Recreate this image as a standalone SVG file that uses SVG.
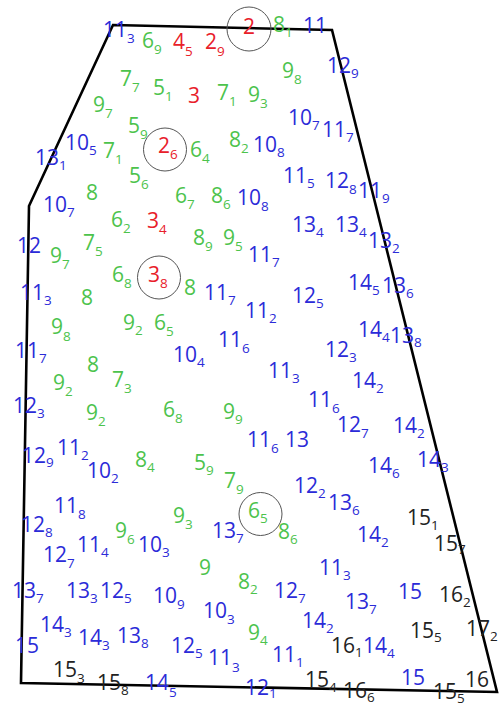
<svg xmlns="http://www.w3.org/2000/svg" width="501" height="707" viewBox="0 0 501 707">
<style>
text{font-family:"Open Sans","Noto Sans","DejaVu Sans",sans-serif;font-size:21px}
.s{font-size:13.5px}
.b{fill:#2b2bd8}.g{fill:#4cc34c}.r{fill:#e8202a}.k{fill:#222}
.ring{fill:none;stroke:#555;stroke-width:1}
</style>
<rect width="501" height="707" fill="#fff"/>
<g id="outline"><polygon points="113,25 332,30 497,692 21,683 29,206" fill="none" stroke="#000" stroke-width="2.6" stroke-linejoin="miter"/></g>
<g id="rings">
<circle class="ring" cx="249" cy="29" r="22"/>
<circle class="ring" cx="165" cy="149.5" r="21.5"/>
<circle class="ring" cx="159" cy="277.5" r="21.5"/>
<circle class="ring" cx="260.5" cy="514" r="21.5"/>
</g>
<g id="red">
<text class="r" x="243" y="34">2</text>
<text class="r" x="173" y="49">4<tspan class="s" dy="7">5</tspan></text>
<text class="r" x="205" y="49">2<tspan class="s" dy="7">9</tspan></text>
<text class="r" x="188" y="103">3</text>
<text class="r" x="158" y="153">2<tspan class="s" dy="6">6</tspan></text>
<text class="r" x="147" y="228">3<tspan class="s" dy="6">4</tspan></text>
<text class="r" x="148" y="282">3<tspan class="s" dy="6">8</tspan></text>
</g>
<g id="green">
<text class="g" x="142" y="48">6<tspan class="s" dy="6">9</tspan></text>
<text class="g" x="273" y="32">8<tspan class="s" dy="5">1</tspan></text>
<text class="g" x="120" y="86">7<tspan class="s" dy="6">7</tspan></text>
<text class="g" x="153" y="95">5<tspan class="s" dy="6">1</tspan></text>
<text class="g" x="217" y="100">7<tspan class="s" dy="6">1</tspan></text>
<text class="g" x="248" y="102">9<tspan class="s" dy="6">3</tspan></text>
<text class="g" x="282" y="78">9<tspan class="s" dy="6">8</tspan></text>
<text class="g" x="93" y="112">9<tspan class="s" dy="6">7</tspan></text>
<text class="g" x="128" y="133">5<tspan class="s" dy="6">9</tspan></text>
<text class="g" x="190" y="157">6<tspan class="s" dy="6">4</tspan></text>
<text class="g" x="229" y="147">8<tspan class="s" dy="6">2</tspan></text>
<text class="g" x="103" y="158">7<tspan class="s" dy="6">1</tspan></text>
<text class="g" x="129" y="183">5<tspan class="s" dy="6">6</tspan></text>
<text class="g" x="86" y="200">8</text>
<text class="g" x="175" y="203">6<tspan class="s" dy="6">7</tspan></text>
<text class="g" x="211" y="203">8<tspan class="s" dy="6">6</tspan></text>
<text class="g" x="111" y="227">6<tspan class="s" dy="6">2</tspan></text>
<text class="g" x="50" y="263">9<tspan class="s" dy="6">7</tspan></text>
<text class="g" x="83" y="250">7<tspan class="s" dy="6">5</tspan></text>
<text class="g" x="193" y="245">8<tspan class="s" dy="6">9</tspan></text>
<text class="g" x="223" y="245">9<tspan class="s" dy="6">5</tspan></text>
<text class="g" x="112" y="282">6<tspan class="s" dy="6">8</tspan></text>
<text class="g" x="184" y="295">8</text>
<text class="g" x="81" y="305">8</text>
<text class="g" x="51" y="334">9<tspan class="s" dy="7">8</tspan></text>
<text class="g" x="123" y="330">9<tspan class="s" dy="5">2</tspan></text>
<text class="g" x="154" y="330">6<tspan class="s" dy="6">5</tspan></text>
<text class="g" x="87" y="372">8</text>
<text class="g" x="53" y="390">9<tspan class="s" dy="6">2</tspan></text>
<text class="g" x="112" y="387">7<tspan class="s" dy="6">3</tspan></text>
<text class="g" x="86" y="420">9<tspan class="s" dy="6">2</tspan></text>
<text class="g" x="163" y="417">6<tspan class="s" dy="6">8</tspan></text>
<text class="g" x="223" y="419">9<tspan class="s" dy="5">9</tspan></text>
<text class="g" x="135" y="467">8<tspan class="s" dy="5">4</tspan></text>
<text class="g" x="194" y="470">5<tspan class="s" dy="5">9</tspan></text>
<text class="g" x="224" y="488">7<tspan class="s" dy="6">9</tspan></text>
<text class="g" x="173" y="523">9<tspan class="s" dy="6">3</tspan></text>
<text class="g" x="115" y="538">9<tspan class="s" dy="6">6</tspan></text>
<text class="g" x="248" y="518">6<tspan class="s" dy="5">5</tspan></text>
<text class="g" x="278" y="539">8<tspan class="s" dy="5">6</tspan></text>
<text class="g" x="199" y="575">9</text>
<text class="g" x="238" y="589">8<tspan class="s" dy="5">2</tspan></text>
<text class="g" x="248" y="640">9<tspan class="s" dy="5">4</tspan></text>
</g>
<g id="blue">
<text class="b" x="103" y="37">11<tspan class="s" dy="6">3</tspan></text>
<text class="b" x="303" y="33">11</text>
<text class="b" x="327" y="73">12<tspan class="s" dy="5">9</tspan></text>
<text class="b" x="288" y="125">10<tspan class="s" dy="5">7</tspan></text>
<text class="b" x="322" y="137">11<tspan class="s" dy="5">7</tspan></text>
<text class="b" x="253" y="152">10<tspan class="s" dy="5">8</tspan></text>
<text class="b" x="65" y="150">10<tspan class="s" dy="5">5</tspan></text>
<text class="b" x="35" y="165">13<tspan class="s" dy="5">1</tspan></text>
<text class="b" x="43" y="212">10<tspan class="s" dy="5">7</tspan></text>
<text class="b" x="237" y="205">10<tspan class="s" dy="6">8</tspan></text>
<text class="b" x="283" y="183">11<tspan class="s" dy="5">5</tspan></text>
<text class="b" x="325" y="188">12<tspan class="s" dy="6">8</tspan></text>
<text class="b" x="358" y="198">11<tspan class="s" dy="5">9</tspan></text>
<text class="b" x="292" y="232">13<tspan class="s" dy="5">4</tspan></text>
<text class="b" x="335" y="232">13<tspan class="s" dy="5">4</tspan></text>
<text class="b" x="368" y="248">13<tspan class="s" dy="5">2</tspan></text>
<text class="b" x="17" y="253">12</text>
<text class="b" x="248" y="262">11<tspan class="s" dy="5">7</tspan></text>
<text class="b" x="204" y="300">11<tspan class="s" dy="5">7</tspan></text>
<text class="b" x="245" y="318">11<tspan class="s" dy="5">2</tspan></text>
<text class="b" x="20" y="300">11<tspan class="s" dy="5">3</tspan></text>
<text class="b" x="218" y="347">11<tspan class="s" dy="6">6</tspan></text>
<text class="b" x="173" y="362">10<tspan class="s" dy="5">4</tspan></text>
<text class="b" x="292" y="303">12<tspan class="s" dy="5">5</tspan></text>
<text class="b" x="348" y="290">14<tspan class="s" dy="5">5</tspan></text>
<text class="b" x="382" y="293">13<tspan class="s" dy="5">6</tspan></text>
<text class="b" x="358" y="337">14<tspan class="s" dy="5">4</tspan></text>
<text class="b" x="390" y="343">13<tspan class="s" dy="4">8</tspan></text>
<text class="b" x="325" y="357">12<tspan class="s" dy="5">3</tspan></text>
<text class="b" x="15" y="358">11<tspan class="s" dy="5">7</tspan></text>
<text class="b" x="13" y="413">12<tspan class="s" dy="5">3</tspan></text>
<text class="b" x="22" y="463">12<tspan class="s" dy="4">9</tspan></text>
<text class="b" x="57" y="455">11<tspan class="s" dy="5">2</tspan></text>
<text class="b" x="87" y="478">10<tspan class="s" dy="5">2</tspan></text>
<text class="b" x="247" y="447">11<tspan class="s" dy="6">6</tspan></text>
<text class="b" x="285" y="447">13</text>
<text class="b" x="268" y="378">11<tspan class="s" dy="5">3</tspan></text>
<text class="b" x="352" y="388">14<tspan class="s" dy="5">2</tspan></text>
<text class="b" x="308" y="407">11<tspan class="s" dy="6">6</tspan></text>
<text class="b" x="337" y="432">12<tspan class="s" dy="6">7</tspan></text>
<text class="b" x="393" y="433">14<tspan class="s" dy="5">2</tspan></text>
<text class="b" x="368" y="473">14<tspan class="s" dy="5">6</tspan></text>
<text class="b" x="417" y="467">14<tspan class="s" dy="5">3</tspan></text>
<text class="b" x="54" y="513">11<tspan class="s" dy="6">8</tspan></text>
<text class="b" x="21" y="532">12<tspan class="s" dy="5">8</tspan></text>
<text class="b" x="212" y="538">13<tspan class="s" dy="5">7</tspan></text>
<text class="b" x="138" y="552">10<tspan class="s" dy="5">3</tspan></text>
<text class="b" x="77" y="552">11<tspan class="s" dy="5">4</tspan></text>
<text class="b" x="43" y="562">12<tspan class="s" dy="6">7</tspan></text>
<text class="b" x="294" y="493">12<tspan class="s" dy="5">2</tspan></text>
<text class="b" x="328" y="510">13<tspan class="s" dy="5">6</tspan></text>
<text class="b" x="357" y="542">14<tspan class="s" dy="5">2</tspan></text>
<text class="b" x="319" y="575">11<tspan class="s" dy="5">3</tspan></text>
<text class="b" x="12" y="598">13<tspan class="s" dy="5">7</tspan></text>
<text class="b" x="66" y="598">13<tspan class="s" dy="5">3</tspan></text>
<text class="b" x="100" y="598">12<tspan class="s" dy="5">5</tspan></text>
<text class="b" x="153" y="603">10<tspan class="s" dy="6">9</tspan></text>
<text class="b" x="203" y="618">10<tspan class="s" dy="6">3</tspan></text>
<text class="b" x="40" y="632">14<tspan class="s" dy="5">3</tspan></text>
<text class="b" x="15" y="653">15</text>
<text class="b" x="78" y="645">14<tspan class="s" dy="5">3</tspan></text>
<text class="b" x="117" y="643">13<tspan class="s" dy="5">8</tspan></text>
<text class="b" x="171" y="653">12<tspan class="s" dy="5">5</tspan></text>
<text class="b" x="208" y="665">11<tspan class="s" dy="7">3</tspan></text>
<text class="b" x="145" y="690">14<tspan class="s" dy="7">5</tspan></text>
<text class="b" x="274" y="598">12<tspan class="s" dy="5">7</tspan></text>
<text class="b" x="345" y="609">13<tspan class="s" dy="5">7</tspan></text>
<text class="b" x="398" y="599">15</text>
<text class="b" x="302" y="628">14<tspan class="s" dy="5">2</tspan></text>
<text class="b" x="272" y="662">11<tspan class="s" dy="5">1</tspan></text>
<text class="b" x="363" y="653">14<tspan class="s" dy="5">4</tspan></text>
<text class="b" x="401" y="685">15</text>
<text class="b" x="245" y="695">12<tspan class="s" dy="3">1</tspan></text>
</g>
<g id="black">
<text class="k" x="407" y="525">15<tspan class="s" dy="5">1</tspan></text>
<text class="k" x="434" y="551">15<tspan class="s" dy="3">7</tspan></text>
<text class="k" x="439" y="602">16<tspan class="s" dy="5">2</tspan></text>
<text class="k" x="410" y="638">15<tspan class="s" dy="4">5</tspan></text>
<text class="k" x="466" y="636">17<tspan class="s" dy="5">2</tspan></text>
<text class="k" x="331" y="653">16<tspan class="s" dy="4">1</tspan></text>
<text class="k" x="53" y="677">15<tspan class="s" dy="6">3</tspan></text>
<text class="k" x="97" y="690">15<tspan class="s" dy="5">8</tspan></text>
<text class="k" x="305" y="687">15<tspan class="s" dy="5">4</tspan></text>
<text class="k" x="343" y="698">16<tspan class="s" dy="4">6</tspan></text>
<text class="k" x="433" y="699">15<tspan class="s" dy="4">5</tspan></text>
<text class="k" x="465" y="687">16</text>
</g>
</svg>
